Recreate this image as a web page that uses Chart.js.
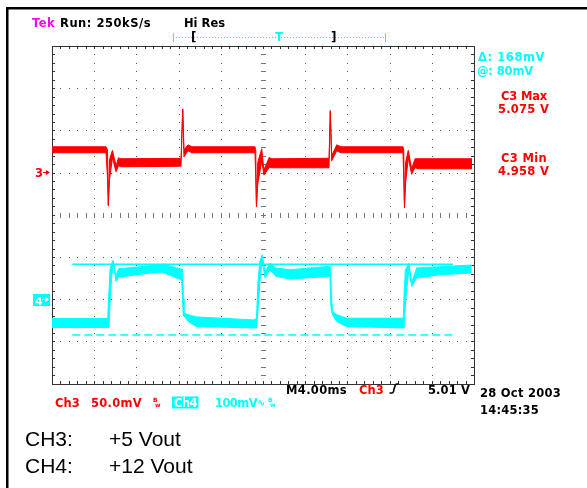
<!DOCTYPE html>
<html>
<head>
<meta charset="utf-8">
<script src="https://cdn.jsdelivr.net/npm/chart.js@4.4.1/dist/chart.umd.min.js"></script>
<style>
  html, body { margin: 0; padding: 0; background: #fff; }
  #scope { display: block; }
</style>
</head>
<body>
<canvas id="scope" width="587" height="488"></canvas>
<script>
// time in ms (4 ms/div, 10 div)
// CH3: mV around the 5 V offset (50 mV/div), envelope of the noisy trace
const ch3Time = [0, 5.12, 5.26, 5.34, 5.45, 5.73, 6.07, 6.30, 6.54, 12.23, 12.39, 12.51, 12.89, 13.27,
    19.24, 19.31, 19.38, 19.50, 19.88, 20.09, 20.59, 20.85, 26.26, 26.38, 26.51, 26.99, 27.39,
    33.27, 33.34, 33.41, 33.52, 33.77, 34.09, 34.41, 34.69, 39.81];
const ch3Top = [30.6, 30.6, 27.0, -38.2, 15.2, 26.4, 8.1, 17.5, 16.4, 16.9, 75.6, 27.0, 32.9, 30.6,
    30.6, 27.0, -39.3, 12.0, 28.2, 3.3, 17.9, 16.4, 17.0, 73.6, 19.9, 32.9, 30.6,
    30.6, 27.0, -40.5, 12.0, 26.4, 4.5, 16.4, 16.4, 16.4];
const ch3Bottom = [23.5, 23.5, -6.2, -39.3, -8.5, 17.5, 0.9, 8.1, 6.9, 7.5, 74.4, 18.7, 25.8, 23.5,
    23.5, -6.2, -40.5, -14.0, 14.0, -3.0, 6.0, 5.7, 5.7, 72.4, 14.0, 25.8, 23.5,
    23.5, -6.2, -41.7, -12.0, 17.0, -2.0, 6.0, 4.5, 4.5];

// CH4: mV around the 12 V offset (100 mV/div)
const ch4Time = [0, 5.28, 5.40, 5.50, 5.66, 5.81, 6.07, 6.30, 9.29, 10.55, 11.82, 12.29, 12.39, 12.45,
    12.51, 12.92, 13.72, 19.08, 19.38, 19.52, 19.70, 19.93, 20.19, 20.66, 21.23, 22.56, 26.35,
    26.42, 26.50, 26.61, 26.99, 27.93, 33.30, 33.38, 33.50, 33.84, 34.09, 34.57, 36.78, 39.78];
const ch4Top = [-46, -46, 20, 70, 85, 92, 55, 72, 79, 83, 74, 71, 70, 0,
    -33, -37, -42, -49, -46, 40, 90, 105, 65, 85, 74, 70, 78,
    76, 0, -29, -37, -45, -45, 20, 70, 85, 40, 74, 77, 81];
const ch4Bottom = [-67, -67, -67, -10, 55, 85, 42, 52, 62, 63, 50, 46, -10, -38,
    -40, -53, -65, -68, -68, -30, 40, 90, 50, 70, 54, 48, 54,
    -10, -30, -38, -53, -65, -68, -68, -10, 75, 30, 50, 58, 62];

// CH4 cursors (mV) and their time span (ms)
const cursorLevels = [83, -85];
const cursorSpan = [1.93, 38.0];

const RED = "rgb(255, 0, 0)";
const CYAN = "rgb(0, 255, 255)";
const SCOPE_FONT = '"DejaVu Sans", sans-serif';

function pts(times, vals) {
    return times.map(function (t, i) { return { x: t, y: vals[i] }; });
}

// scope readout text, stretched to the width it has on the screenshot
function txt(ctx, s, x, y, color, size, width, weight) {
    ctx.font = (weight || "bold") + " " + size + "px " + SCOPE_FONT;
    ctx.fillStyle = color;
    ctx.letterSpacing = "0px";
    if (width) {
        var w = ctx.measureText(s).width;
        ctx.letterSpacing = ((width - w) / s.length).toFixed(2) + "px";
    }
    ctx.fillText(s, x, y);
    ctx.letterSpacing = "0px";
}

const graticule = {
    id: "graticule",
    beforeDatasetsDraw: function (chart) {
        var ctx = chart.ctx;
        var xs = chart.scales.x, ys = chart.scales.y3;
        var L = xs.getPixelForValue(0), R = xs.getPixelForValue(40);
        var divY = function (d) { return ys.getPixelForValue((d - 1) * 50); };
        var T = divY(4), B = divY(-4);
        var dx = (R - L) / 10, dy = (B - T) / 8;
        ctx.save();
        ctx.fillStyle = "#555";
        // dotted major lines
        for (var i = 1; i < 10; i++) {
            if (i === 5) continue;
            var x = Math.round(L + i * dx);
            for (var k = 0; k <= 40; k++) ctx.fillRect(x, Math.round(T + k * dy / 5), 1, 1);
        }
        for (var j = 1; j < 8; j++) {
            if (j === 4) continue;
            var y = Math.round(T + j * dy);
            for (var k2 = 0; k2 <= 50; k2++) ctx.fillRect(Math.round(L + k2 * dx / 5), y, 1, 1);
        }
        // centre axes with minor ticks
        ctx.fillStyle = "#777";
        var cx = Math.round(L + 5 * dx), cy = Math.round(T + 4 * dy);
        for (var k3 = 0; k3 <= 40; k3++) ctx.fillRect(cx - 2, Math.round(T + k3 * dy / 5), 5, 1);
        for (var k4 = 0; k4 <= 50; k4++) ctx.fillRect(Math.round(L + k4 * dx / 5), cy - 2, 1, 5);
        // frame and edge ticks
        ctx.fillStyle = "#333";
        for (var k5 = 0; k5 <= 50; k5++) {
            var tx = Math.round(L + k5 * dx / 5);
            ctx.fillRect(tx, Math.round(T), 1, 3);
            ctx.fillRect(tx, Math.round(B) - 3, 1, 3);
        }
        for (var k6 = 0; k6 <= 40; k6++) {
            var ty = Math.round(T + k6 * dy / 5);
            ctx.fillRect(Math.round(L), ty, 3, 1);
            ctx.fillRect(Math.round(R) - 3, ty, 3, 1);
        }
        ctx.strokeStyle = "#333";
        ctx.lineWidth = 1;
        ctx.strokeRect(Math.round(L) + 0.5, Math.round(T) + 0.5, Math.round(R - L), Math.round(B - T));
        ctx.restore();
    }
};

const annotations = {
    id: "annotations",
    afterDraw: function (chart) {
        var ctx = chart.ctx;
        ctx.save();
        // outer black frame (left + top)
        ctx.fillStyle = "#000";
        ctx.fillRect(6, 7, 581, 2.5);
        ctx.fillRect(6, 7, 2.5, 481);

        // header
        txt(ctx, "Tek", 32, 27, "rgb(255, 0, 255)", 11.5, 23);
        txt(ctx, "Run: 250kS/s", 60, 27, "#000", 11.5, 91);
        txt(ctx, "Hi Res", 184, 27, "#000", 11.5, 41);

        // record / trigger position bar
        ctx.strokeStyle = CYAN;
        ctx.lineWidth = 1;
        ctx.setLineDash([1, 2]);
        ctx.beginPath();
        ctx.moveTo(173, 37.5); ctx.lineTo(385, 37.5);
        ctx.stroke();
        ctx.setLineDash([]);
        ctx.beginPath();
        ctx.moveTo(173.5, 33); ctx.lineTo(173.5, 42);
        ctx.moveTo(385.5, 33); ctx.lineTo(385.5, 42);
        ctx.stroke();
        txt(ctx, "[", 191, 41, "#000", 12);
        txt(ctx, "]", 331, 41, "#000", 12);
        txt(ctx, "T", 275, 41, CYAN, 12);

        // cursor readouts and measurements
        txt(ctx, "\u0394: 168mV", 478, 61, CYAN, 11.5, 67);
        txt(ctx, "@: 80mV", 477, 75, CYAN, 11.5, 56);
        txt(ctx, "C3 Max", 501, 100, RED, 11.5, 46);
        txt(ctx, "5.075 V", 498, 113, RED, 11.5, 51);
        txt(ctx, "C3 Min", 501, 162, RED, 11.5, 46);
        txt(ctx, "4.958 V", 498, 174.5, RED, 11.5, 51);

        // channel ground markers
        txt(ctx, "3", 35, 177, RED, 11.5);
        ctx.strokeStyle = RED;
        ctx.fillStyle = RED;
        ctx.beginPath(); ctx.moveTo(43, 172.5); ctx.lineTo(48, 172.5); ctx.stroke();
        ctx.beginPath(); ctx.moveTo(50, 172.5); ctx.lineTo(46, 170); ctx.lineTo(46, 175); ctx.fill();
        ctx.fillStyle = CYAN;
        ctx.fillRect(33, 294, 17, 12);
        txt(ctx, "4", 35, 304.5, "#fff", 11);
        ctx.strokeStyle = "#fff";
        ctx.fillStyle = "#fff";
        ctx.beginPath(); ctx.moveTo(42, 299.5); ctx.lineTo(46, 299.5); ctx.stroke();
        ctx.beginPath(); ctx.moveTo(49, 299.5); ctx.lineTo(45, 297); ctx.lineTo(45, 302); ctx.fill();

        // channel settings line
        txt(ctx, "Ch3", 55, 407, RED, 11.5, 25);
        txt(ctx, "50.0mV", 91, 407, RED, 11.5, 51);
        txt(ctx, "B", 153, 402, RED, 6);
        txt(ctx, "w", 155, 406.5, RED, 6);
        ctx.fillStyle = CYAN;
        ctx.fillRect(172, 396.5, 26.5, 12);
        txt(ctx, "Ch4", 174, 407, "#fff", 11.5, 23);
        txt(ctx, "100mV", 215, 407, CYAN, 11.5, 42);
        txt(ctx, "\u223F", 257, 406, CYAN, 10);
        txt(ctx, "B", 268, 402, CYAN, 6);
        txt(ctx, "w", 270, 406.5, CYAN, 6);

        // timebase / trigger
        txt(ctx, "M4.00ms", 286, 393.5, "#000", 11.5, 61);
        txt(ctx, "Ch3", 359, 393.5, RED, 11.5, 25);
        ctx.strokeStyle = "#000";
        ctx.lineWidth = 1.6;
        ctx.beginPath();
        ctx.moveTo(389.5, 393); ctx.lineTo(392, 393);
        ctx.quadraticCurveTo(393.5, 393, 393.8, 390);
        ctx.lineTo(394.8, 386.5);
        ctx.quadraticCurveTo(395.3, 384, 397, 384);
        ctx.lineTo(398.5, 384);
        ctx.stroke();
        txt(ctx, "5.01 V", 428, 393.5, "#000", 11.5, 42);
        txt(ctx, "28 Oct 2003", 480, 397, "#000", 11.5, 81);
        txt(ctx, "14:45:35", 480, 414, "#000", 11.5, 59);

        // channel legend
        ctx.font = '21px "Liberation Sans", Arial, sans-serif';
        ctx.fillStyle = "#000";
        ctx.fillText("CH3:", 25, 446);
        ctx.fillText("+5 Vout", 109, 446);
        ctx.fillText("CH4:", 25, 473);
        ctx.fillText("+12 Vout", 109, 473);
        ctx.restore();
    }
};

const ctx = document.getElementById("scope").getContext("2d");
const myChart = new Chart(ctx, {
    type: "line",
    data: {
        datasets: [
            { data: pts(ch3Time, ch3Top), yAxisID: "y3", borderColor: RED, borderWidth: 1, pointRadius: 0, fill: false },
            { data: pts(ch3Time, ch3Bottom), yAxisID: "y3", borderColor: RED, borderWidth: 1, pointRadius: 0, fill: "-1", backgroundColor: RED },
            { data: pts(ch4Time, ch4Top), yAxisID: "y4", borderColor: CYAN, borderWidth: 1, pointRadius: 0, fill: false },
            { data: pts(ch4Time, ch4Bottom), yAxisID: "y4", borderColor: CYAN, borderWidth: 1, pointRadius: 0, fill: "-1", backgroundColor: CYAN },
            {
                data: pts(cursorSpan, [cursorLevels[0], cursorLevels[0]]), yAxisID: "y4",
                borderColor: CYAN, borderWidth: 1.5, pointRadius: 0, fill: false
            },
            {
                data: pts(cursorSpan, [cursorLevels[1], cursorLevels[1]]), yAxisID: "y4",
                borderColor: CYAN, borderWidth: 1.5, borderDash: [8, 4], pointRadius: 0, fill: false
            },
        ],
    },
    options: {
        responsive: false,
        animation: false,
        layout: { padding: { left: 52, top: 46, right: 113, bottom: 104.4 } },
        plugins: {
            legend: { display: false },
            tooltip: { enabled: false },
        },
        elements: { line: { tension: 0 } },
        scales: {
            x: { type: "linear", min: 0, max: 40, display: false },
            y3: { type: "linear", min: -250, max: 150, display: false },
            y4: { type: "linear", min: -200, max: 600, display: false },
        },
    },
    plugins: [graticule, annotations],
});
</script>
</body>
</html>
